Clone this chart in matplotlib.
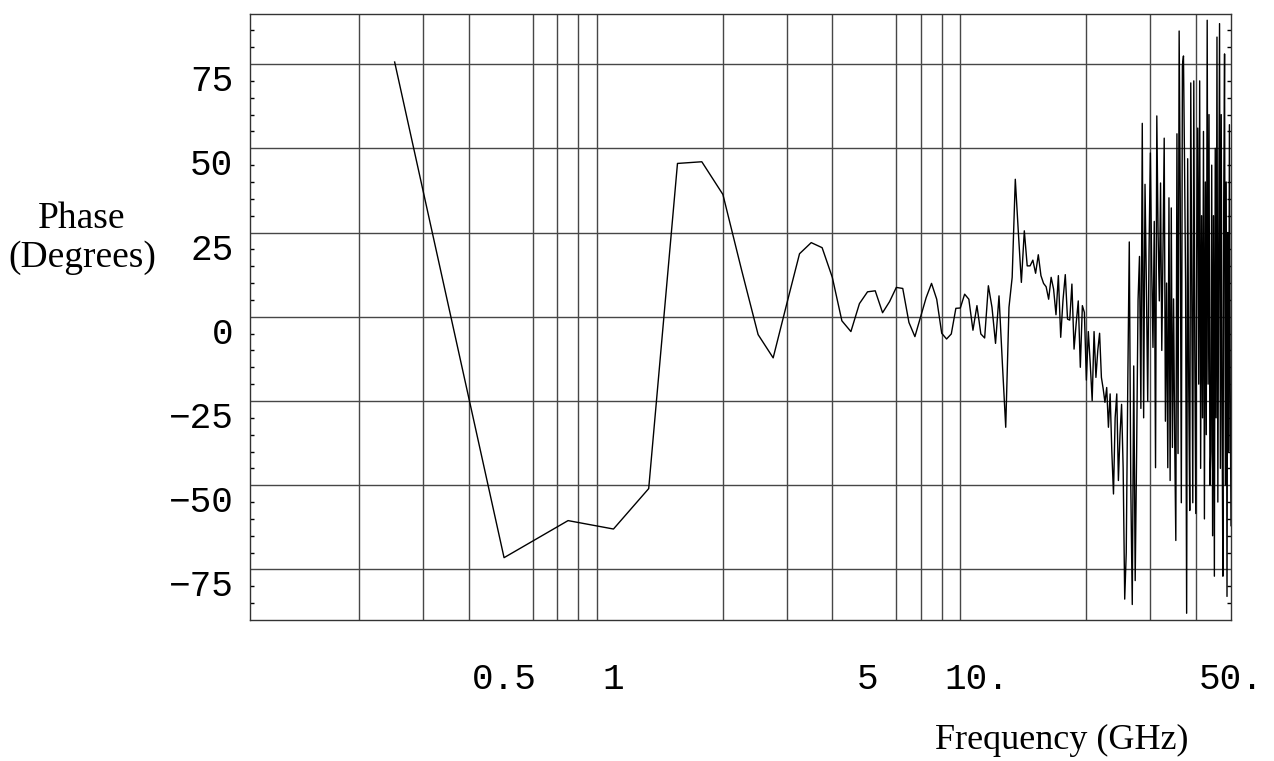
import numpy as np
import matplotlib
matplotlib.use("Agg")
import matplotlib.pyplot as plt
from matplotlib.ticker import FixedLocator, NullFormatter

# Frequency samples every 0.25 GHz, 0.25 .. 50 GHz
freq = 0.25 * np.arange(1, 201)

# Phase values (degrees)
phase = [
    75.6, -71.5, -60.5, -63.0, -51.0, 45.5, 46.0, 36.3, 14.0, -5.3,
    -12.2, 4.0, 18.7, 22.0, 20.5, 11.7, -1.2, -4.4, 3.9, 7.4,
    7.7, 1.2, 4.5, 8.7, 8.4, -1.7, -5.9, 0.0, 5.7, 9.9,
    5.2, -4.9, -6.6, -5.1, 2.5, 2.6, 6.7, 5.2, -4.0, 3.3,
    -5.1, -6.3, 9.2, 2.8, -7.9, 6.2, -14.0, -32.8, 2.8, 11.7,
    40.8, 25.0, 10.2, 25.5, 15.1, 15.1, 16.8, 12.9, 18.4, 12.2,
    9.9, 8.9, 5.2, 11.7, 8.2, 0.6, 12.2, -6.1, 5.0, 12.5,
    -0.7, -1.0, 9.7, -9.6, -2.0, 4.7, -15.0, 3.3, 1.3, -18.8,
    -4.4, -14.0, -24.9, -4.4, -18.0, -10.0, -4.9, -18.0, -21.4, -25.4,
    -21.0, -32.8, -22.9, -40.0, -52.6, -30.0, -22.9, -48.6, -35.0, -26.0,
    -45.0, -83.8, -70.0, -20.0, 22.2, -50.0, -85.4, -14.6, -78.3, -40.0,
    5.0, 17.9, -27.2, 57.4, -30.0, 39.3, 10.0, -25.0, 20.0, 48.6,
    15.0, -9.1, 28.3, -44.8, 59.6, 25.0, 4.7, 39.7, -10.0, 20.0,
    53.0, -31.0, 10.0, -44.8, 35.3, -48.6, 32.3, -38.8, 5.3, -36.8,
    -66.4, 54.3, -40.6, 84.8, 35.0, -55.2, 74.4, 77.4, 45.7, 10.0,
    -88.0, 46.9, -20.0, -57.5, 69.4, 5.0, -55.2, 70.0, -10.0, -58.4,
    20.0, 56.0, -20.0, 70.0, -45.0, 30.0, -30.0, 55.0, -60.0, 40.0,
    -35.0, 88.0, -20.0, 60.0, -50.0, -40.0, 45.0, -65.0, 30.0, -77.0,
    50.0, -30.0, 83.0, -55.0, 20.0, 87.0, -45.0, 60.0, -30.0, -77.0,
    35.0, 78.0, -50.0, 40.0, -83.0, 25.0, -40.0, 57.0, -20.0, -62.0,
]

x_grid = [0.2, 0.3, 0.4, 0.5, 0.6, 0.7, 0.8, 0.9, 1, 2, 3, 4, 5, 6, 7, 8, 9,
          10, 20, 30, 40]
x_ticks = [0.5, 1, 5, 10, 50]
x_tick_labels = ["0.5", "1", "5", "10.", "50."]
y_ticks = [-75, -50, -25, 0, 25, 50, 75]
y_tick_labels = ["\u221275", "\u221250", "\u221225", "0", "25", "50", "75"]
y_minor = list(range(-85, 90, 5))

W, H = 1274, 761
fig = plt.figure(figsize=(W / 100, H / 100), dpi=100)
ax = fig.add_axes([250 / W, 1 - 620 / H, (1231 - 250) / W, (620 - 13.5) / H])

ax.plot(freq, phase, color="black", lw=1.0)

ax.set_xscale("log")
ax.set_xlim(0.1, 50)
ax.set_ylim(-90, 90)

ax.set_xticks(x_ticks, x_tick_labels)
ax.xaxis.set_minor_locator(FixedLocator(x_grid))
ax.xaxis.set_minor_formatter(NullFormatter())
ax.set_yticks(y_ticks, y_tick_labels)
ax.yaxis.set_minor_locator(FixedLocator(y_minor))

ax.xaxis.grid(True, which="minor", color="0.28", lw=1.0)
ax.yaxis.grid(True, which="major", color="0.28", lw=1.0)
ax.set_axisbelow(True)

ax.tick_params(axis="x", which="both", length=0, pad=30, labelsize=26)
ax.tick_params(axis="y", which="major", length=0, pad=12, labelsize=26)
ax.tick_params(axis="y", which="minor", direction="in", length=3, width=1,
               left=True, right=True)

for lab in ax.get_xticklabels() + ax.get_yticklabels():
    lab.set_fontfamily("Liberation Mono")
for lab in ax.get_yticklabels():
    lab.set_verticalalignment("top")

for sp in ax.spines.values():
    sp.set_color("0.2")
    sp.set_linewidth(1.0)

fig.text(82 / W, 1 - 238 / H, "Phase\n(Degrees)", ha="center", va="center",
         family="Liberation Serif", fontsize=27, linespacing=1.15)
fig.text(1062 / W, 1 - 740 / H, "Frequency (GHz)", ha="center", va="center",
         family="Liberation Serif", fontsize=26)

fig.savefig("out.png", dpi=100, facecolor="white")
